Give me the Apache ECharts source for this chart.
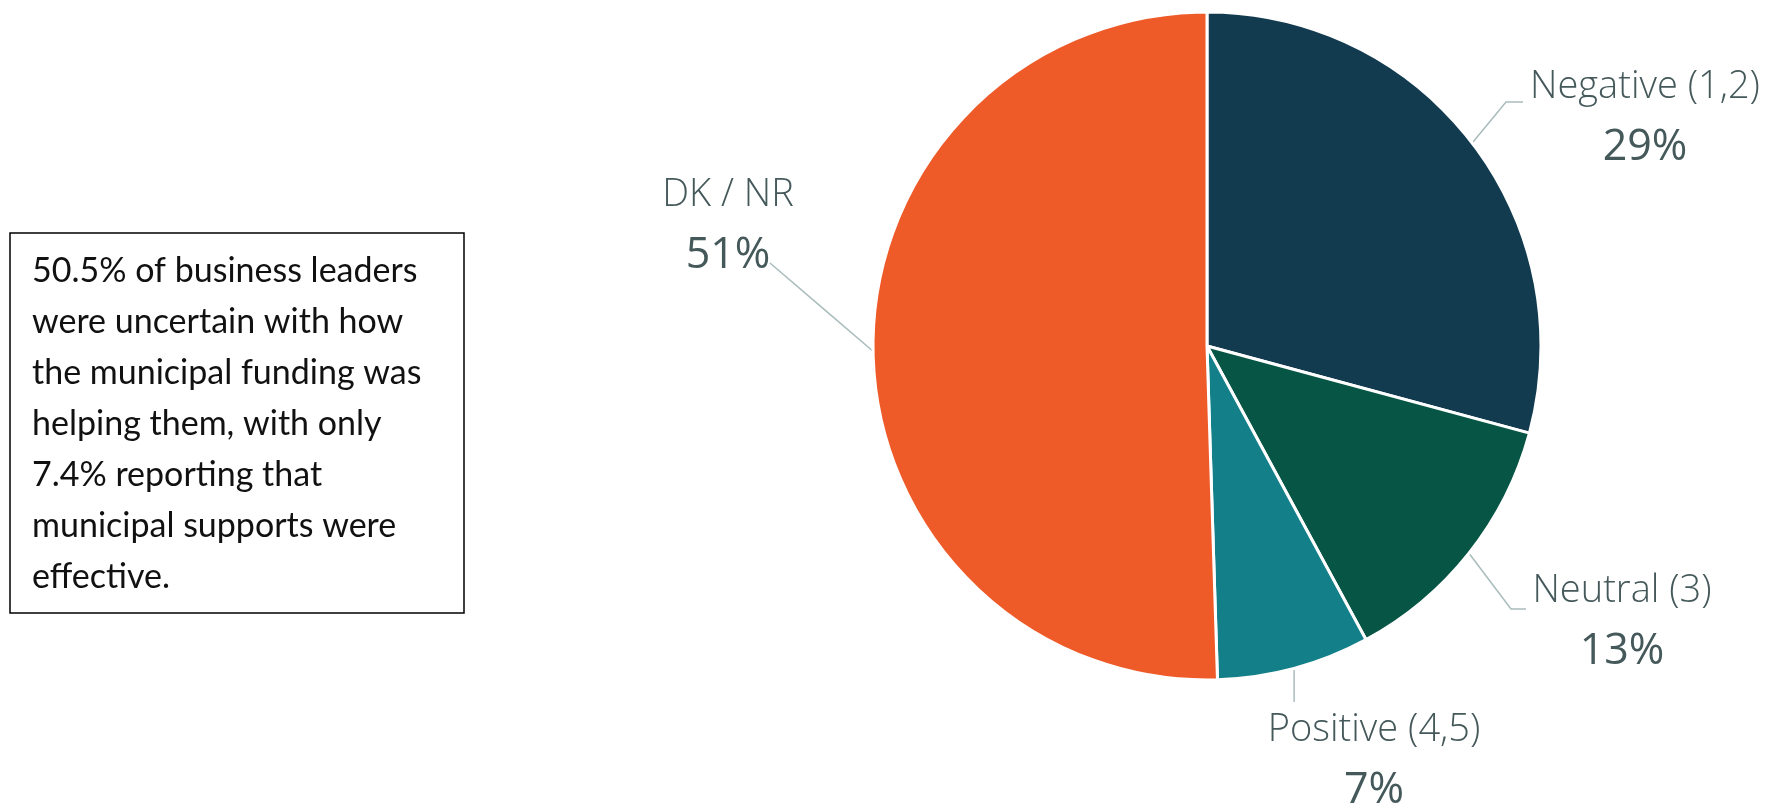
<!DOCTYPE html>
<html>
<head>
<meta charset="utf-8">
<script src="https://cdn.jsdelivr.net/npm/echarts@6/dist/echarts.min.js"></script>
<style>
  html, body { margin: 0; padding: 0; background: #ffffff; }
  #chart { width: 1775px; height: 807px; }
</style>
</head>
<body>
<div id="chart"></div>
<script>
// ---- data ----
const categories = ['Negative (1,2)', 'Neutral (3)', 'Positive (4,5)', 'DK / NR'];
const shares = [29.2, 12.9, 7.4, 50.5];
const sliceColors = ['#133b4f', '#075545', '#137f89', '#ef5a29'];
const noteLines = [
  '50.5% of business leaders',
  'were uncertain with how',
  'the municipal funding was',
  'helping them, with only',
  '7.4% reporting that',
  'municipal supports were',
  'effective.'
];

// ---- layout (style only) ----
const labelSpots = [
  { x: 1645, y: 118, knee: [1506, 102], end: [1523, 102] },
  { x: 1622, y: 622, knee: [1511, 609], end: [1526, 609] },
  { x: 1374, y: 761, knee: null, endY: 702 },
  { x: 728, y: 226, knee: [820, 306], end: [770, 263] }
];
const textColor = '#45595b';

const chart = echarts.init(document.getElementById('chart'));
chart.setOption({
  animation: false,
  backgroundColor: '#ffffff',
  graphic: [
    {
      type: 'rect',
      shape: { x: 10, y: 233, width: 454, height: 380 },
      style: { fill: '#ffffff', stroke: '#000000', lineWidth: 1.5 }
    },
    {
      type: 'text',
      x: 32,
      y: 246,
      style: {
        text: noteLines.join('\n'),
        fontFamily: 'Lato',
        fontSize: 34,
        lineHeight: 51,
        fill: '#111111',
        verticalAlign: 'top'
      }
    }
  ],
  series: [{
    type: 'pie',
    center: [1207, 346],
    radius: 334,
    startAngle: 90,
    clockwise: true,
    avoidLabelOverlap: false,
    itemStyle: { borderColor: '#ffffff', borderWidth: 3 },
    label: {
      show: true,
      position: 'outside',
      formatter: function (p) { return '{n|' + p.name + '}\n{p|' + Math.round(p.value) + '%}'; },
      rich: {
        n: { fontFamily: 'Open Sans', fontWeight: 300, fontSize: 38, color: textColor, lineHeight: 60, align: 'center' },
        p: { fontFamily: 'Open Sans', fontWeight: 400, fontSize: 43, color: textColor, lineHeight: 62, align: 'center' }
      }
    },
    labelLine: { show: true, length: 30, length2: 15, lineStyle: { color: '#a9bcbc', width: 1.5 } },
    labelLayout: function (p) {
      const s = labelSpots[p.dataIndex];
      const p0 = p.labelLinePoints ? p.labelLinePoints[0] : [0, 0];
      let pts;
      if (s.knee) {
        pts = [p0, s.knee, s.end];
        if (p.dataIndex === 3) pts = [p0, [(p0[0] + s.end[0]) / 2, (p0[1] + s.end[1]) / 2], s.end];
      } else {
        pts = [p0, [p0[0], (p0[1] + s.endY) / 2], [p0[0], s.endY]];
      }
      return { x: s.x, y: s.y, align: 'center', verticalAlign: 'middle', labelLinePoints: pts };
    },
    data: categories.map(function (c, i) {
      return { name: c, value: shares[i], itemStyle: { color: sliceColors[i] } };
    })
  }]
});
</script>
</body>
</html>
